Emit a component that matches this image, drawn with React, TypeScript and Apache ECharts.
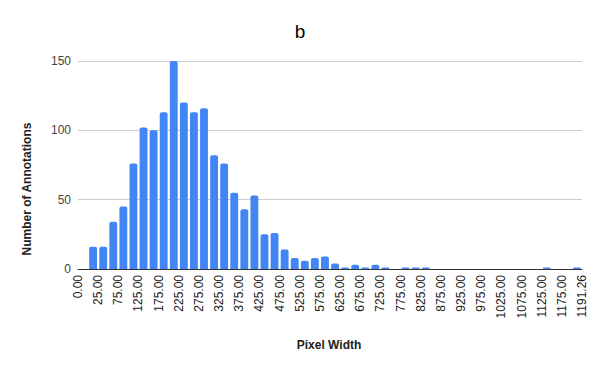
import React, { useEffect, useRef } from "react";
import * as echarts from "echarts";

// Histogram buckets (50 slots, 25px buckets), counts
const bucketNames: string[] = [
  "0-0", "0-25", "25-50", "50-75", "75-100", "100-125", "125-150", "150-175", "175-200", "200-225",
  "225-250", "250-275", "275-300", "300-325", "325-350", "350-375", "375-400", "400-425", "425-450", "450-475",
  "475-500", "500-525", "525-550", "550-575", "575-600", "600-625", "625-650", "650-675", "675-700", "700-725",
  "725-750", "750-775", "775-800", "800-825", "825-850", "850-875", "875-900", "900-925", "925-950", "950-975",
  "975-1000", "1000-1025", "1025-1050", "1050-1075", "1075-1100", "1100-1125", "1125-1150", "1150-1175", "1175-1191.26", "end",
];
const counts: number[] = [
  0, 16, 16, 34, 45, 76, 102, 100, 113, 150,
  120, 113, 116, 82, 76, 55, 43, 53, 25, 26,
  14, 8, 6, 8, 9, 4, 1, 3, 1, 3,
  1, 0, 1, 1, 1, 0, 0, 0, 0, 0,
  0, 0, 0, 0, 0, 0, 1, 0, 0, 1,
];
const tickLabels: string[] = [
  "0.00", "25.00", "75.00", "125.00", "175.00", "225.00", "275.00", "325.00", "375.00", "425.00",
  "475.00", "525.00", "575.00", "625.00", "675.00", "725.00", "775.00", "825.00", "875.00", "925.00",
  "975.00", "1025.00", "1075.00", "1125.00", "1175.00", "1191.26",
];
const yTicks = { min: 0, max: 150, interval: 50 };

const FONT = "'Liberation Sans', Arial, sans-serif";

export default function App() {
  const ref = useRef<HTMLDivElement>(null);
  useEffect(() => {
    if (!ref.current) return;
    const chart = echarts.init(ref.current, null, { renderer: "svg" });
    chart.setOption({
      animation: false,
      backgroundColor: "#ffffff",
      textStyle: { fontFamily: FONT },
      title: {
        text: "b",
        left: "center",
        top: 17,
        textStyle: { fontSize: 19, fontWeight: "normal", color: "#000000", fontFamily: FONT },
      },
      grid: { left: 78, right: 18, top: 61, bottom: 102, containLabel: false },
      xAxis: [
        {
          type: "category",
          data: bucketNames,
          position: "bottom",
          boundaryGap: true,
          axisLine: { show: true, lineStyle: { color: "#333333", width: 1 } },
          axisTick: { show: false },
          axisLabel: { show: false },
          splitLine: { show: false },
        },
        {
          type: "category",
          data: tickLabels,
          position: "bottom",
          boundaryGap: false,
          axisLine: { show: false },
          axisTick: { show: false },
          axisLabel: {
            show: true,
            rotate: 90,
            interval: 0,
            margin: 6,
            fontSize: 12,
            color: "#222222",
            fontFamily: FONT,
          },
          splitLine: { show: false },
        },
      ],
      yAxis: {
        type: "value",
        min: yTicks.min,
        max: yTicks.max,
        interval: yTicks.interval,
        axisLine: { show: false },
        axisTick: { show: false },
        axisLabel: { fontSize: 12, color: "#444444", margin: 7, fontFamily: FONT },
        splitLine: { show: true, lineStyle: { color: "#cccccc", width: 1 } },
      },
      graphic: [
        {
          type: "text",
          x: 27,
          y: 189,
          rotation: Math.PI / 2,
          style: {
            text: "Number of Annotations",
            fontSize: 12,
            fontWeight: "bold",
            fill: "#222222",
            fontFamily: FONT,
            align: "center",
            verticalAlign: "middle",
          },
        },
        {
          type: "text",
          x: 329,
          y: 345,
          style: {
            text: "Pixel Width",
            fontSize: 12,
            fontWeight: "bold",
            fill: "#222222",
            fontFamily: FONT,
            align: "center",
            verticalAlign: "middle",
          },
        },
      ],
      series: [
        {
          type: "bar",
          xAxisIndex: 0,
          data: counts,
          barCategoryGap: "22%",
          itemStyle: { color: "#4285f4", borderRadius: [2, 2, 0, 0] },
        },
      ],
    });
    return () => chart.dispose();
  }, []);
  return <div ref={ref} style={{ width: 600, height: 371, position: "absolute", left: 0, top: 0 }} />;
}
